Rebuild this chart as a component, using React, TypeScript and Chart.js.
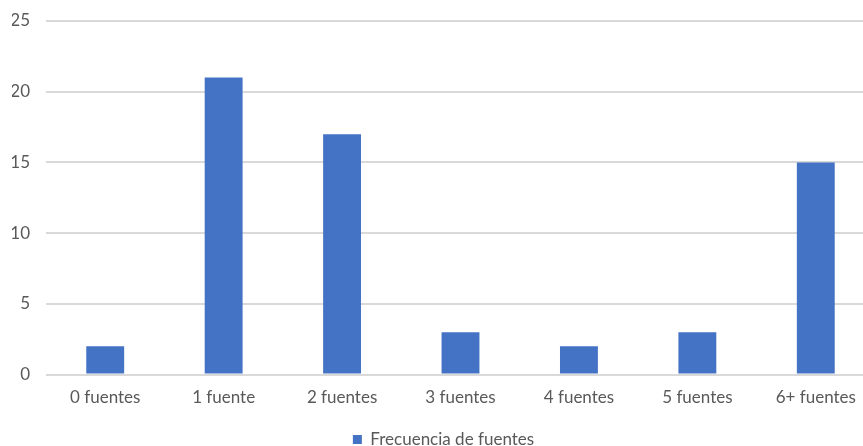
import React, { useEffect, useRef } from "react";
import { Chart, registerables } from "chart.js";

Chart.register(...registerables);

const categories = ["0 fuentes", "1 fuente", "2 fuentes", "3 fuentes", "4 fuentes", "5 fuentes", "6+ fuentes"];
const frecuencia = [2, 21, 17, 3, 2, 3, 15];
const seriesName = "Frecuencia de fuentes";

const FONT = "Lato";
const FS = 17;

export default function App() {
  const ref = useRef<HTMLCanvasElement | null>(null);
  useEffect(() => {
    document.body.style.margin = "0";
    document.body.style.overflow = "hidden";
    const ctx = ref.current!;
    const chart = new Chart(ctx, {
      type: "bar",
      data: {
        labels: categories,
        datasets: [
          {
            label: seriesName,
            data: frecuencia,
            backgroundColor: "#4472C4",
            categoryPercentage: 1,
            barPercentage: 0.32,
          },
        ],
      },
      options: {
        animation: false,
        responsive: true,
        maintainAspectRatio: false,
        layout: { padding: { top: 21, right: 0, left: 12, bottom: -12 } },
        plugins: {
          tooltip: { enabled: false },
          legend: {
            position: "bottom",
            labels: {
              color: "#595959",
              font: { family: FONT, size: FS },
              boxWidth: 9,
              boxHeight: 9,
              padding: 18,
            },
          },
        },
        scales: {
          x: {
            grid: { display: false },
            border: { display: false },
            ticks: {
              color: "#595959",
              font: { family: FONT, size: FS },
              padding: 5,
              maxRotation: 0,
            },
          },
          y: {
            min: 0,
            max: 25,
            grid: { color: "#d9d9d9", lineWidth: 2, drawTicks: false },
            border: { display: false },
            ticks: {
              stepSize: 5,
              color: "#595959",
              font: { family: FONT, size: FS },
              padding: 16,
            },
            afterFit: (scale: any) => {
              scale.width = 34;
              scale.paddingTop = 0;
            },
          },
        },
      },
    });
    return () => chart.destroy();
  }, []);
  return (
    <div style={{ position: "fixed", left: 0, top: 0, width: 875, height: 446 }}>
      <canvas ref={ref} />
    </div>
  );
}
